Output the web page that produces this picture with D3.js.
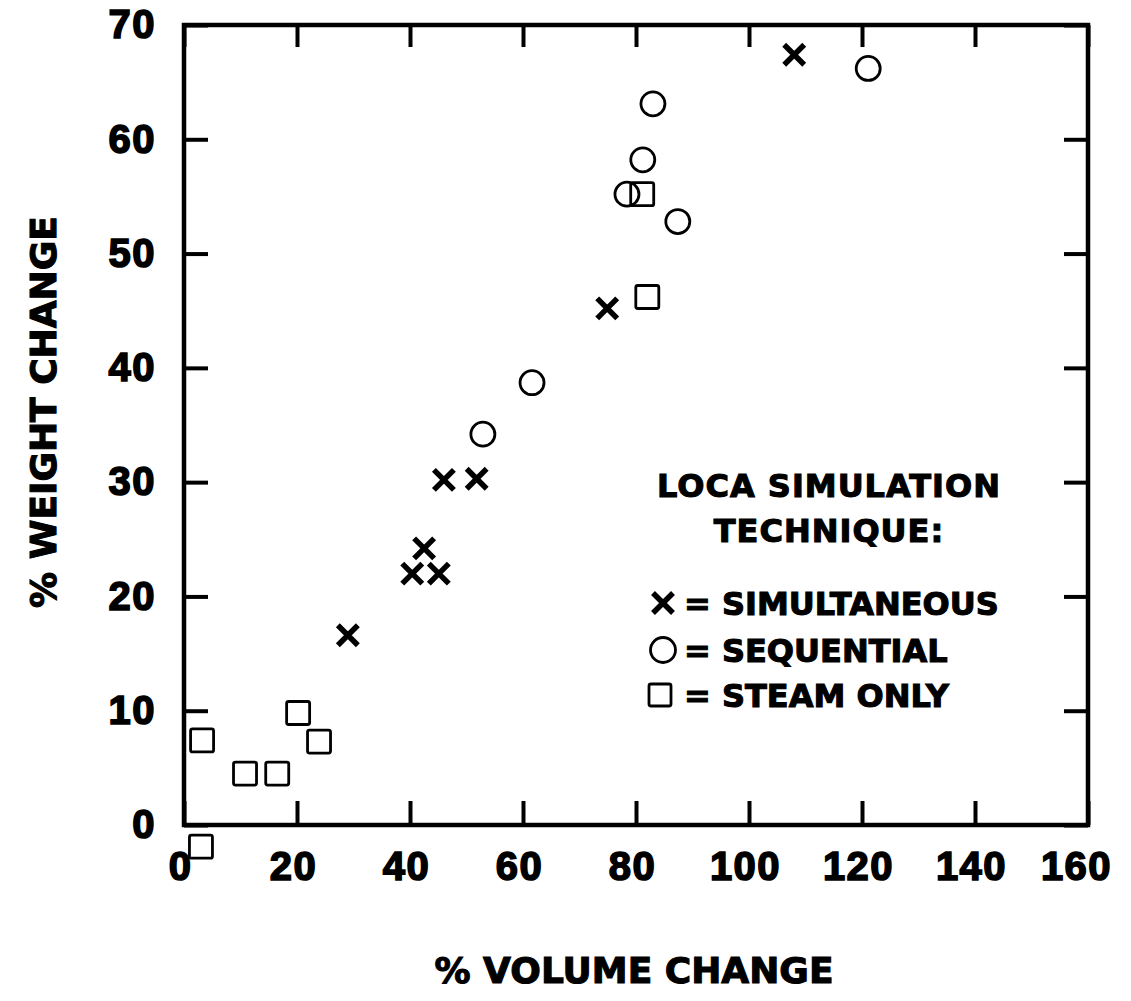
<!DOCTYPE html>
<html>
<head>
<meta charset="utf-8">
<script src="https://cdn.jsdelivr.net/npm/d3@7"></script>
<style>
  html, body { margin: 0; padding: 0; background: #fff; }
  svg { display: block; }
  text { font-family: "DejaVu Sans", sans-serif; font-weight: bold; fill: #000;
         stroke: #000; stroke-width: 1.1px; }
  .tick text { font-family: "Liberation Sans", Arial, sans-serif; stroke-width: 1.6px; }
</style>
</head>
<body>
<script>
// % volume change (x) and % weight change (y) for each LOCA simulation technique
const simultaneousX = [108, 74.9, 46.0, 51.8, 42.5, 40.4, 45.1, 29.0];
const simultaneousY = [67.4, 45.2, 30.2, 30.3, 24.2, 22.0, 22.0, 16.6];

const sequentialX = [121.1, 83.0, 81.2, 78.4, 87.4, 61.6, 52.9];
const sequentialY = [66.2, 63.1, 58.2, 55.2, 52.8, 38.7, 34.2];

const steamX = [3.2, 10.8, 16.5, 20.2, 23.9, 3.0, 81.1, 82.0];
const steamY = [7.4, 4.5, 4.5, 9.8, 7.3, -1.9, 55.2, 46.2];

const xTicks = [0, 20, 40, 60, 80, 100, 120, 140, 160];
const yTicks = [0, 10, 20, 30, 40, 50, 60, 70];

const xTitle = "% VOLUME CHANGE";
const yTitle = "% WEIGHT CHANGE";
const legendTitle = ["LOCA SIMULATION", "TECHNIQUE:"];
const legendLabels = ["= SIMULTANEOUS", "= SEQUENTIAL", "= STEAM ONLY"];

const W = 1131, H = 1001;
const plotL = 184, plotR = 1088, plotT = 25, plotB = 825;

const svg = d3.select("body").append("svg")
  .attr("width", W).attr("height", H);
svg.append("rect").attr("width", W).attr("height", H).attr("fill", "#fff");

const x = d3.scaleLinear().domain([0, 160]).range([plotL, plotR]);
const y = d3.scaleLinear().domain([0, 70]).range([plotB, plotT]);

const tickLen = 24;

function styleAxis(g) {
  g.select(".domain").remove();
  g.selectAll(".tick line").attr("stroke", "#000").attr("stroke-width", 4);
  g.selectAll(".tick text").attr("font-size", 40).attr("fill", "#000")
    .attr("font-family", null).attr("font-weight", "bold")
    .attr("letter-spacing", 1.5);
}

// bottom axis with labels
svg.append("g").attr("transform", `translate(0,${plotB})`)
  .call(d3.axisBottom(x).tickValues(xTicks).tickFormat(d3.format("d"))
    .tickSizeInner(-tickLen).tickSizeOuter(0).tickPadding(27))
  .call(styleAxis)
  .selectAll(".tick text").attr("dx", d => d === 160 ? -12 : -4);

// top axis: ticks only
svg.append("g").attr("transform", `translate(0,${plotT})`)
  .call(d3.axisTop(x).tickValues(xTicks).tickFormat("")
    .tickSizeInner(-tickLen + 2).tickSizeOuter(0))
  .call(styleAxis);

// left axis with labels
svg.append("g").attr("transform", `translate(${plotL},0)`)
  .call(d3.axisLeft(y).tickValues(yTicks).tickFormat(d3.format("d"))
    .tickSizeInner(-tickLen).tickSizeOuter(0).tickPadding(28))
  .call(styleAxis);

// right axis: ticks only
svg.append("g").attr("transform", `translate(${plotR},0)`)
  .call(d3.axisRight(y).tickValues(yTicks).tickFormat("")
    .tickSizeInner(-tickLen).tickSizeOuter(0))
  .call(styleAxis);

// frame
svg.append("rect")
  .attr("x", plotL).attr("y", plotT)
  .attr("width", plotR - plotL).attr("height", plotB - plotT)
  .attr("fill", "none").attr("stroke", "#000").attr("stroke-width", 4.5);

// axis titles
svg.append("text")
  .attr("x", (plotL + plotR) / 2 - 2).attr("y", 983)
  .attr("text-anchor", "middle").attr("font-size", 36)
  .text(xTitle);

svg.append("text")
  .attr("transform", `translate(56,${412}) rotate(-90)`)
  .attr("text-anchor", "middle").attr("font-size", 36)
  .text(yTitle);

// marker drawing helpers
function drawCross(g, cx, cy, h) {
  g.append("path")
    .attr("d", `M${cx - h},${cy - h}L${cx + h},${cy + h}M${cx - h},${cy + h}L${cx + h},${cy - h}`)
    .attr("stroke", "#000").attr("stroke-width", 5.5).attr("fill", "none");
}
function drawCircle(g, cx, cy, r) {
  g.append("circle").attr("cx", cx).attr("cy", cy).attr("r", r)
    .attr("fill", "none").attr("stroke", "#000").attr("stroke-width", 2.8);
}
function drawSquare(g, cx, cy, s) {
  g.append("rect").attr("x", cx - s / 2).attr("y", cy - s / 2)
    .attr("width", s).attr("height", s).attr("rx", 2)
    .attr("fill", "none").attr("stroke", "#000").attr("stroke-width", 2.8);
}

const marks = svg.append("g");
steamX.forEach((v, i) => drawSquare(marks, x(v), y(steamY[i]), 23));
sequentialX.forEach((v, i) => drawCircle(marks, x(v), y(sequentialY[i]), 12));
simultaneousX.forEach((v, i) => drawCross(marks, x(v), y(simultaneousY[i]), 10));

// legend
const lg = svg.append("g");
lg.selectAll("text.title").data(legendTitle).join("text")
  .attr("class", "title")
  .attr("x", 829).attr("y", (d, i) => 497 + i * 45)
  .attr("text-anchor", "middle").attr("font-size", 32)
  .attr("letter-spacing", 1)
  .text(d => d);

const legendRowY = [603, 650, 695];
drawCross(lg, 663, legendRowY[0], 10);
drawCircle(lg, 663, legendRowY[1], 12.5);
drawSquare(lg, 660, legendRowY[2], 22);

lg.selectAll("text.item").data(legendLabels).join("text")
  .attr("class", "item")
  .attr("x", 684).attr("y", (d, i) => legendRowY[i] + 12)
  .attr("font-size", 32)
  .text(d => d);
</script>
</body>
</html>
